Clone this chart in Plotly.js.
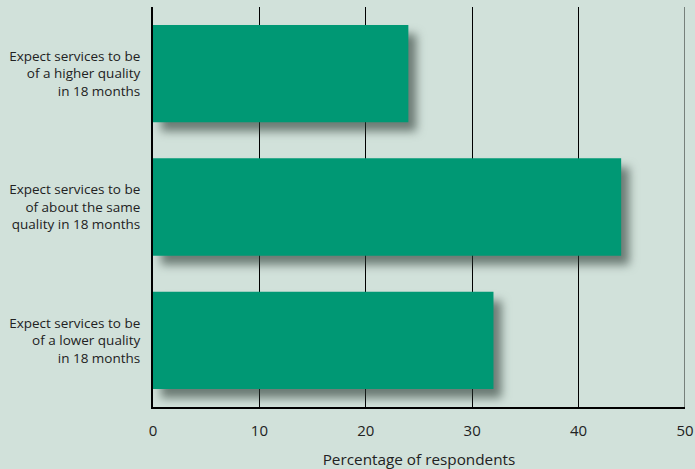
<!DOCTYPE html>
<html>
<head>
<meta charset="utf-8">
<script src="https://cdn.plot.ly/plotly-3.0.1.min.js"></script>
<style>
  html, body { margin: 0; padding: 0; background: #d1e1da; }
  #chart { width: 695px; height: 469px; }
</style>
</head>
<body>
<div id="chart"></div>
<script>
// Survey answers: expected quality of services in 18 months
const categories = [
  'Expect services to be<br>of a lower quality<br>in 18 months',
  'Expect services to be<br>of about the same<br>quality in 18 months',
  'Expect services to be<br>of a higher quality<br>in 18 months'
];
const percentages = [32, 44, 24];
const xTicks = [0, 10, 20, 30, 40, 50];

const bg = '#d1e1da';
const barColor = '#009874';
const font = 'Open Sans, Noto Sans, sans-serif';

const trace = {
  type: 'bar',
  orientation: 'h',
  y: categories,
  x: percentages,
  marker: { color: barColor, line: { width: 0 } },
  width: 0.73,
  hoverinfo: 'skip'
};

const layout = {
  width: 695,
  height: 469,
  margin: { l: 153, r: 10, t: 7, b: 62 },
  paper_bgcolor: bg,
  plot_bgcolor: bg,
  font: { family: font, color: '#222', size: 12 },
  showlegend: false,
  xaxis: {
    range: [0, 50],
    tickvals: xTicks,
    ticktext: xTicks.map(String),
    showgrid: true,
    gridcolor: '#000',
    gridwidth: 1,
    zeroline: false,
    showline: true,
    linecolor: '#000',
    linewidth: 2,
    ticks: 'outside',
    ticklen: 9,
    tickcolor: 'rgba(0,0,0,0)',
    tickfont: { family: font, size: 15, color: '#222' },
    title: { text: 'Percentage of respondents', font: { family: font, size: 15.3, color: '#222' }, standoff: 16 },
    fixedrange: true
  },
  yaxis: {
    showgrid: false,
    zeroline: false,
    showline: true,
    linecolor: '#000',
    linewidth: 2,
    ticks: 'outside',
    ticklen: 8,
    tickcolor: 'rgba(0,0,0,0)',
    tickfont: { family: font, size: 13.5, color: '#222' },
    fixedrange: true
  },
  shapes: [{
    type: 'line', xref: 'x', yref: 'paper',
    x0: 50, x1: 50, y0: 0, y1: 1,
    line: { color: '#76807b', width: 2 },
    layer: 'above'
  }]
};

Plotly.newPlot('chart', [trace], layout, { displayModeBar: false, staticPlot: true }).then(() => {
  // soft drop shadow behind each bar
  document.querySelectorAll('#chart .bars path').forEach(p => {
    p.style.filter = 'drop-shadow(8px 9px 5px rgba(40, 55, 48, 0.6))';
  });
});
</script>
</body>
</html>
